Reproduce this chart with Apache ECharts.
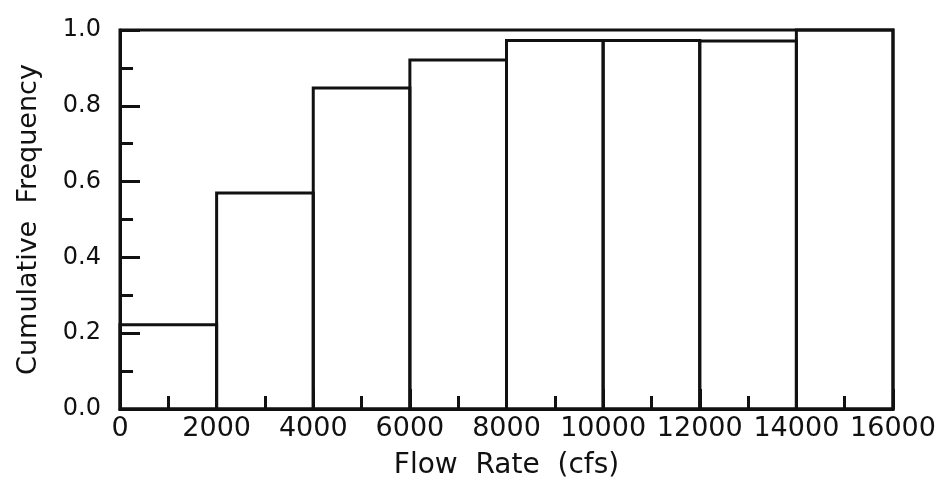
<!DOCTYPE html>
<html>
<head>
<meta charset="utf-8">
<script src="https://cdn.jsdelivr.net/npm/echarts@6/dist/echarts.min.js"></script>
<style>
  html, body { margin: 0; padding: 0; background: #fff; }
  #chart { width: 940px; height: 489px; }
</style>
</head>
<body>
<div id="chart"></div>
<script>
// cumulative frequency histogram, bins of 2000 cfs
const binStart = [0, 2000, 4000, 6000, 8000, 10000, 12000, 14000];
const binEnd = [2000, 4000, 6000, 8000, 10000, 12000, 14000, 16000];
const cumFreq = [0.222, 0.57, 0.847, 0.921, 0.972, 0.972, 0.971, 1.0];
const xTicks = [0, 2000, 4000, 6000, 8000, 10000, 12000, 14000, 16000];
const yTicks = [0.0, 0.2, 0.4, 0.6, 0.8, 1.0];

const ink = '#111';
const font = 'DejaVu Sans';

const chart = echarts.init(document.getElementById('chart'), null, { renderer: 'canvas' });

chart.setOption({
  backgroundColor: '#fff',
  animation: false,
  grid: {
    left: 120, right: 47, top: 30, bottom: 80,
    show: true, borderColor: ink, borderWidth: 3, backgroundColor: 'transparent'
  },
  xAxis: {
    type: 'value',
    min: xTicks[0], max: xTicks[xTicks.length - 1], interval: 2000,
    name: 'Flow  Rate  (cfs)',
    nameLocation: 'middle', nameGap: 43,
    nameTextStyle: { color: ink, fontFamily: font, fontSize: 28 },
    axisLine: { lineStyle: { color: ink, width: 3 } },
    axisTick: { inside: true, length: 20, lineStyle: { color: ink, width: 3 } },
    minorTick: { show: true, splitNumber: 2, length: 13, lineStyle: { color: ink, width: 3 } },
    splitLine: { show: false },
    axisLabel: { color: ink, fontFamily: font, fontSize: 27, margin: 6,
      showMinLabel: true, showMaxLabel: true, hideOverlap: false,
      formatter: v => String(v) }
  },
  yAxis: {
    type: 'value',
    min: yTicks[0], max: yTicks[yTicks.length - 1], interval: 0.2,
    name: 'Cumulative  Frequency',
    nameLocation: 'middle', nameGap: 78,
    nameTextStyle: { color: ink, fontFamily: font, fontSize: 27 },
    axisLine: { show: true, lineStyle: { color: ink, width: 3 } },
    axisTick: { show: true, inside: true, length: 20, lineStyle: { color: ink, width: 3 } },
    minorTick: { show: true, splitNumber: 2, length: 13, lineStyle: { color: ink, width: 3 } },
    splitLine: { show: false },
    axisLabel: { color: ink, fontFamily: font, fontSize: 24, margin: 19,
      formatter: v => v.toFixed(1) }
  },
  series: [{
    type: 'custom',
    data: binStart.map((s, i) => [s, binEnd[i], cumFreq[i]]),
    encode: { x: [0, 1], y: 2 },
    renderItem: (params, api) => {
      const p0 = api.coord([api.value(0), 0]);
      const p1 = api.coord([api.value(1), api.value(2)]);
      return {
        type: 'rect',
        shape: { x: p0[0], y: p1[1], width: p1[0] - p0[0], height: p0[1] - p1[1] },
        style: { fill: 'none', stroke: ink, lineWidth: 3 }
      };
    }
  }]
});
</script>
</body>
</html>
